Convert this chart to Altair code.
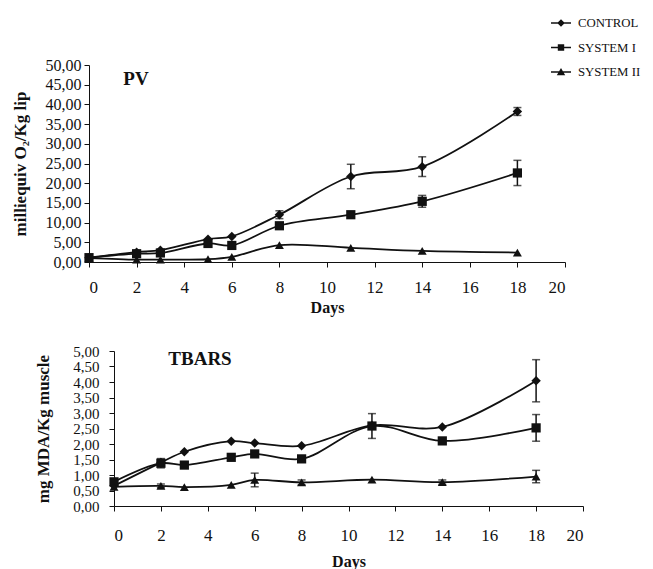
import altair as alt
import pandas as pd

# ---------------- data ----------------
days = [0, 2, 3, 5, 6, 8, 11, 14, 18]
series_names = ["CONTROL", "SYSTEM I", "SYSTEM II"]

# PV (milliequiv O2/Kg lip)
pv_control = [1.1, 2.5, 3.0, 5.8, 6.5, 12.0, 21.7, 24.2, 38.2]
pv_control_err = [0, 0, 0, 0, 0, 1.0, 3.1, 2.5, 1.0]
pv_system1 = [1.1, 2.1, 2.3, 4.7, 4.2, 9.2, 12.0, 15.4, 22.6]
pv_system1_err = [0, 0, 0, 0, 0, 0, 0, 1.5, 3.2]
pv_system2 = [1.0, 0.6, 0.6, 0.7, 1.3, 4.3, 3.6, 2.8, 2.4]
pv_system2_err = [0, 0, 0, 0, 0, 0, 0, 0, 0]

# TBARS (mg MDA/Kg muscle)
tb_control = [0.65, 1.40, 1.75, 2.09, 2.03, 1.94, 2.60, 2.55, 4.04]
tb_control_err = [0, 0, 0, 0, 0, 0, 0, 0, 0.68]
tb_system1 = [0.78, 1.38, 1.32, 1.57, 1.68, 1.52, 2.58, 2.10, 2.52]
tb_system1_err = [0, 0.15, 0, 0, 0, 0, 0.40, 0, 0.43]
tb_system2 = [0.62, 0.65, 0.61, 0.68, 0.84, 0.76, 0.85, 0.77, 0.95]
tb_system2_err = [0, 0.06, 0, 0, 0.22, 0.08, 0, 0.07, 0.20]

x_ticks = [0, 2, 4, 6, 8, 10, 12, 14, 16, 18, 20]
pv_ticks = [0, 5, 10, 15, 20, 25, 30, 35, 40, 45, 50]
tb_ticks = [0, 0.5, 1, 1.5, 2, 2.5, 3, 3.5, 4, 4.5, 5]

panel_labels = ["PV", "TBARS"]
x_title = "Days"
pv_title = "milliequiv O\u2082/Kg lip"
tb_title = "mg MDA/Kg muscle"


def long_frame(vals, errs):
    rows = []
    for name, v, e in zip(series_names, vals, errs):
        for d, vi, ei in zip(days, v, e):
            rows.append({"day": d, "series": name, "value": vi, "err": ei,
                         "lo": vi - ei, "hi": vi + ei})
    return pd.DataFrame(rows)


pv_df = long_frame([pv_control, pv_system1, pv_system2],
                   [pv_control_err, pv_system1_err, pv_system2_err])
tb_df = long_frame([tb_control, tb_system1, tb_system2],
                   [tb_control_err, tb_system1_err, tb_system2_err])

FONT = "Liberation Serif"
INK = "#111111"
LABEL_EXPR = "replace(format(datum.value, '.2f'), '.', ',')"

shape_scale = alt.Scale(domain=series_names, range=["diamond", "square", "triangle-up"])
size_scale = alt.Scale(domain=series_names, range=[90, 80, 90])
legend_paths = [
    "M-1,-0.08H1V0.08H-1Z M0,-0.38L0.38,0L0,0.38L-0.38,0Z",
    "M-1,-0.08H1V0.08H-1Z M-0.32,-0.32H0.32V0.32H-0.32Z",
    "M-1,-0.08H1V0.08H-1Z M0,-0.4L0.42,0.32L-0.42,0.32Z",
]


def panel(df, ymax, yticks, ytitle, width, height, xrange, yoffset,
          ylabel_size, ylabel_pad, ytitle_pad, xlabel_pad, xtitle_pad,
          label, label_pos, with_legend):
    xscale = alt.Scale(domain=[0, 20], range=xrange, nice=False, zero=False)
    xaxis = alt.Axis(values=x_ticks, title=x_title, format="d",
                     labelFont=FONT, titleFont=FONT, labelOverlap=False,
                     labelFontSize=17, labelPadding=xlabel_pad, tickSize=5,
                     titleFontSize=16, titleFontWeight="bold",
                     titlePadding=xtitle_pad)
    yscale = alt.Scale(domain=[0, ymax], nice=False)
    yaxis = alt.Axis(values=yticks, labelExpr=LABEL_EXPR, title=ytitle,
                     labelFont=FONT, titleFont=FONT, labelOverlap=False,
                     labelFontSize=ylabel_size, labelPadding=ylabel_pad,
                     tickSize=5, offset=yoffset,
                     titleFontSize=17, titleFontWeight="bold",
                     titlePadding=ytitle_pad)

    def X(field="day"):
        return alt.X(f"{field}:Q", scale=xscale, axis=xaxis)

    def Y(field="value"):
        return alt.Y(f"{field}:Q", scale=yscale, axis=yaxis)

    base = alt.Chart(df)
    lines = base.mark_line(interpolate="catmull-rom", color=INK, strokeWidth=1.8).encode(
        x=X(), y=Y(), detail="series:N")
    err = base.transform_filter("datum.err > 0")
    rules = err.mark_rule(color=INK, strokeWidth=1.5).encode(
        x=X(), y=Y("lo"), y2="hi:Q")
    cap_lo = err.mark_tick(color=INK, orient="horizontal", size=8, thickness=1.5).encode(
        x=X(), y=Y("lo"))
    cap_hi = err.mark_tick(color=INK, orient="horizontal", size=8, thickness=1.5).encode(
        x=X(), y=Y("hi"))
    pts = base.mark_point(filled=True, color=INK, opacity=1).encode(
        x=X(), y=Y(),
        shape=alt.Shape("series:N", scale=shape_scale, legend=None),
        size=alt.Size("series:N", scale=size_scale, legend=None))
    txt = alt.Chart(pd.DataFrame({"label": [label]})).mark_text(
        font=FONT, fontSize=19, fontWeight="bold", color=INK, align="center",
        baseline="middle").encode(
        text="label:N", x=alt.value(label_pos[0]), y=alt.value(label_pos[1]))
    layers = [lines, rules, cap_lo, cap_hi, pts, txt]
    if with_legend:
        leg = base.transform_filter("false").mark_point(filled=True, color=INK, opacity=1).encode(
            x=X(), y=Y(),
            shape=alt.Shape("series:N",
                            scale=alt.Scale(domain=series_names, range=legend_paths),
                            legend=alt.Legend(title=None, orient="none",
                                              legendX=462, legendY=-52,
                                              symbolSize=400, symbolFillColor=INK,
                                              symbolStrokeWidth=0,
                                              labelFont=FONT, labelFontSize=12.8,
                                              labelColor=INK, labelOffset=7,
                                              rowPadding=7.5, padding=0)))
        layers.append(leg)
    return alt.layer(*layers).resolve_scale(shape="independent").properties(
        width=width, height=height)


top = panel(pv_df, 50, pv_ticks, pv_title, 476, 197, [0, 476], 0,
            16, 3, 16, 12, 4, panel_labels[0], (47, 14), True)
bottom = panel(tb_df, 5, tb_ticks, tb_title, 494, 155, [25, 494], -25,
               15, 10, 20, 16, 10, panel_labels[1], (111, 8), False)

chart = alt.vconcat(top, bottom, spacing=29).properties(
    padding={"left": 3, "top": 5, "right": 0, "bottom": 2}
).configure_axis(
    labelFont=FONT, titleFont=FONT, labelColor=INK, titleColor=INK,
    domainColor=INK, tickColor=INK, grid=False, domainWidth=1, tickWidth=1
).configure_view(stroke=None)

chart.save("out.html", embed_options={"renderer": "svg", "actions": False})
